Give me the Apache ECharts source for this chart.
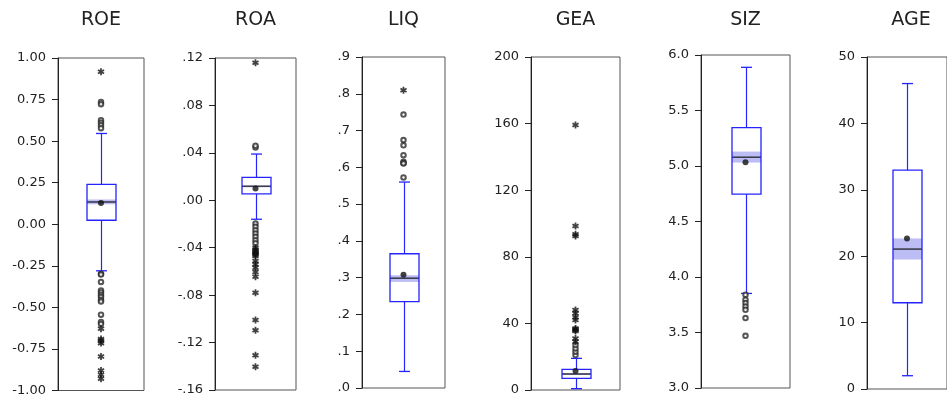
<!DOCTYPE html>
<html>
<head>
<meta charset="utf-8">
<script src="https://cdn.jsdelivr.net/npm/echarts@6/dist/echarts.min.js"></script>
<style>
  html, body { margin: 0; padding: 0; background: #fff; }
  #chart { width: 947px; height: 397px; }
</style>
</head>
<body>
<div id="chart"></div>
<script>
const names = ['ROE', 'ROA', 'LIQ', 'GEA', 'SIZ', 'AGE'];

// lower whisker, Q1, median, Q3, upper whisker
const boxes = [
  [-0.28, 0.024, 0.134, 0.24, 0.546],
  [-0.016, 0.0054, 0.0118, 0.0194, 0.039],
  [0.045, 0.235, 0.2985, 0.365, 0.56],
  [0.8, 7.0, 9.6, 12.4, 19.0],
  [3.852, 4.746, 5.079, 5.346, 5.889],
  [2.0, 12.99, 21.07, 32.95, 46.0]
];
const medianCI = [[0.12, 0.149], [0.0112, 0.0125], [0.2885, 0.3066], [9.0, 10.2], [5.031, 5.13], [19.5, 22.67]];
const means = [0.128, 0.010, 0.308, 11.4, 5.034, 22.67];

const nearOutliers = [
  [0.735, 0.722, 0.625, 0.61, 0.595, 0.578, -0.297, -0.303, -0.347, -0.398, -0.41, -0.425, -0.438, -0.455, -0.465, -0.544, -0.588, -0.60],
  [0.0445, 0.046, -0.0196, -0.0224, -0.0252, -0.028, -0.0308, -0.0336, -0.0362],
  [0.7435, 0.674, 0.660, 0.633, 0.615, 0.612, 0.6106, 0.5725],
  [21.0, 23.0, 25.0, 27.0],
  [3.84, 3.795, 3.765, 3.735, 3.705, 3.63, 3.47],
  []
];
const farOutliers = [
  [0.917, -0.628, -0.69, -0.70, -0.715, -0.795, -0.88, -0.905, -0.93],
  [0.116, -0.040, -0.0415, -0.0429, -0.0438, -0.0448, -0.046, -0.047, -0.0513, -0.054, -0.0569, -0.0605, -0.0644, -0.078, -0.101, -0.1096, -0.1306, -0.1404],
  [0.8095],
  [29.0, 31.0, 35.5, 36.0, 36.5, 37.0, 42.0, 43.7, 46.1, 48.0, 92.5, 93.5, 98.5, 159.2],
  [],
  []
];

const axisMin = [-1, -0.16, 0, 0, 3, 0];
const axisMax = [1, 0.12, 0.9, 200, 6, 50];
const axisStep = [0.25, 0.04, 0.1, 40, 0.5, 10];
const labelDecimals = [2, 2, 1, 0, 1, 0];
const dropLeadingZero = [false, true, true, false, false, false];

// panel frames: [left, top, width, bottom-y]
const frames = [
  [58, 58, 86, 391],
  [215, 58, 81, 390],
  [362, 57, 83, 388],
  [531, 57, 89, 390],
  [701, 55, 89, 388],
  [867, 57, 88, 389]
];

const FONT = 'DejaVu Sans';
const BLUE = '#2424ff';

// six-armed asterisk built from three rotated bars
const asteriskPath = (len, t) => {
  let d = '';
  [90, 30, 150].forEach(deg => {
    const a = deg * Math.PI / 180, c = Math.cos(a), s = Math.sin(a);
    const pts = [[-len, -t], [len, -t], [len, t], [-len, t]].map(([x, y]) =>
      (x * c - y * s).toFixed(3) + ',' + (x * s + y * c).toFixed(3));
    d += 'M' + pts.join('L') + 'Z';
  });
  return 'path://' + d;
};
const ASTERISK = asteriskPath(5, 1.25);

const fmt = i => v => {
  let s = v.toFixed(labelDecimals[i]);
  if (dropLeadingZero[i]) s = s.replace(/^(-?)0\./, '$1.');
  return s;
};

const renderBox = (params, api) => {
  const x = api.value(0);
  const lo = api.coord([x, api.value(1)]);
  const q1 = api.coord([x, api.value(2)]);
  const md = api.coord([x, api.value(3)]);
  const q3 = api.coord([x, api.value(4)]);
  const hi = api.coord([x, api.value(5)]);
  const ciLo = api.coord([x, api.value(6)]);
  const ciHi = api.coord([x, api.value(7)]);
  const cx = Math.round(md[0]) + 0.5;
  const half = 14.5, cap = 5.5;
  const line = (x1, y1, x2, y2, stroke, w) => ({
    type: 'line', shape: { x1, y1, x2, y2 }, style: { stroke, lineWidth: w }
  });
  return {
    type: 'group',
    children: [
      { type: 'rect', shape: { x: cx - half, y: ciHi[1], width: half * 2, height: ciLo[1] - ciHi[1] }, style: { fill: '#bdbdf6' } },
      line(cx - half, md[1], cx + half, md[1], '#3d3d4d', 1.6),
      { type: 'rect', shape: { x: cx - half, y: q3[1], width: half * 2, height: q1[1] - q3[1] }, style: { fill: 'none', stroke: BLUE, lineWidth: 1.3 } },
      line(cx, q3[1], cx, hi[1], BLUE, 1.2),
      line(cx, q1[1], cx, lo[1], BLUE, 1.2),
      line(cx - cap, hi[1], cx + cap, hi[1], BLUE, 1.3),
      line(cx - cap, lo[1], cx + cap, lo[1], BLUE, 1.3)
    ]
  };
};

const chart = echarts.init(document.getElementById('chart'), null, { renderer: 'canvas' });

const grid = [], xAxis = [], yAxis = [], title = [], series = [];
names.forEach((name, i) => {
  const [left, top, width, bottomY] = frames[i];
  grid.push({
    left, top, width, height: bottomY - top,
    show: true, borderColor: '#555', borderWidth: 1, backgroundColor: '#fff'
  });
  xAxis.push({ type: 'category', gridIndex: i, data: [name], show: false });
  yAxis.push({
    type: 'value', gridIndex: i,
    min: axisMin[i], max: axisMax[i], interval: axisStep[i],
    axisLine: { show: true, lineStyle: { color: '#222', width: 1 } },
    axisTick: { show: true, length: 6, lineStyle: { color: '#222' } },
    axisLabel: { margin: 12, color: '#222', fontFamily: FONT, fontSize: 13, formatter: fmt(i) },
    splitLine: { show: false }
  });
  title.push({
    text: name, left: left + width / 2, top: 11, textAlign: 'center', padding: 0,
    textStyle: { fontFamily: FONT, fontSize: 19, fontWeight: 'normal', color: '#222' }
  });
  const b = boxes[i];
  series.push({
    type: 'custom', xAxisIndex: i, yAxisIndex: i,
    renderItem: renderBox,
    encode: { x: 0, y: [1, 2, 3, 4, 5] },
    data: [[0, b[0], b[1], b[2], b[3], b[4], medianCI[i][0], medianCI[i][1]]],
    silent: true
  });
  series.push({
    type: 'scatter', xAxisIndex: i, yAxisIndex: i,
    symbol: 'emptyCircle', symbolSize: 4.5,
    itemStyle: { color: '#2a2a2a', borderWidth: 1.3 },
    data: nearOutliers[i].map(v => [0, v]), silent: true
  });
  series.push({
    type: 'scatter', xAxisIndex: i, yAxisIndex: i,
    symbol: ASTERISK, symbolSize: 7,
    itemStyle: { color: '#111' },
    data: farOutliers[i].map(v => [0, v]), silent: true
  });
  series.push({
    type: 'scatter', xAxisIndex: i, yAxisIndex: i,
    symbol: 'circle', symbolSize: 6,
    itemStyle: { color: '#111' },
    data: [[0, means[i]]], silent: true
  });
});

chart.setOption({ animation: false, title, grid, xAxis, yAxis, series });
</script>
</body>
</html>
